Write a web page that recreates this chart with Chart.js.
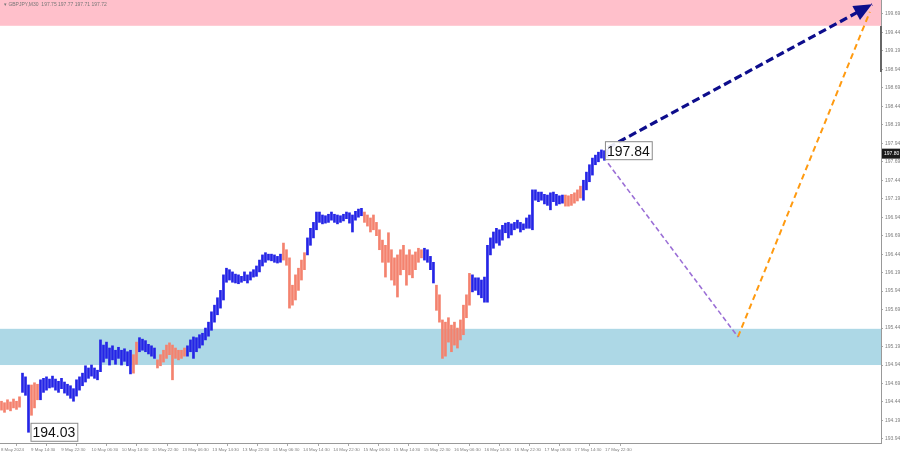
<!DOCTYPE html>
<html><head><meta charset="utf-8">
<script src="https://cdn.jsdelivr.net/npm/chart.js@4.4.1/dist/chart.umd.min.js"></script>
<style>html,body{margin:0;padding:0;background:#fff;overflow:hidden}#wrap{width:900px;height:454px;position:relative}</style>
</head><body><div id="wrap"><canvas id="c" width="900" height="454"></canvas></div>
<script>
const symbolTitle = 'GBPJPY,M30  197.75 197.77 197.71 197.72';
const timeLabels = ['8 May 2024','9 May 14:30','9 May 22:30','10 May 06:30','10 May 14:30','10 May 22:30','13 May 06:30','13 May 14:30','13 May 22:30','14 May 06:30','14 May 14:30','14 May 22:30','15 May 06:30','15 May 14:30','15 May 22:30','16 May 06:30','16 May 14:30','16 May 22:30','17 May 06:30','17 May 14:30','17 May 22:30'];
const priceTicks = [193.94,194.19,194.44,194.69,194.94,195.19,195.44,195.69,195.94,196.19,196.44,196.69,196.94,197.19,197.44,197.69,197.94,198.19,198.44,198.69,198.94,199.19,199.44,199.69];
const highs = [194.45,194.43,194.47,194.44,194.48,194.45,194.51,194.83,194.78,194.67,
194.67,194.70,194.68,194.74,194.76,194.78,194.75,194.79,194.75,194.72,
194.76,194.71,194.68,194.66,194.62,194.74,194.78,194.83,194.93,194.90,
194.94,194.90,194.87,195.28,195.21,195.25,195.17,195.20,195.14,195.18,
195.14,195.16,195.12,195.14,195.08,195.25,195.31,195.29,195.27,195.22,
195.20,195.17,195.01,195.08,195.14,195.21,195.24,195.21,195.17,195.14,
195.14,195.17,195.20,195.28,195.32,195.31,195.35,195.37,195.44,195.52,
195.66,195.75,195.85,195.95,196.16,196.25,196.23,196.20,196.17,196.16,
196.14,196.20,196.16,196.20,196.23,196.28,196.36,196.43,196.46,196.44,
196.44,196.43,196.41,196.44,196.59,196.50,196.39,196.02,196.16,196.25,
196.36,196.46,196.66,196.79,196.87,197.01,197.01,196.97,196.96,196.98,
197.01,196.98,196.97,196.96,196.98,197.01,197.00,196.97,197.02,197.05,
197.06,197.01,196.97,196.93,196.97,196.87,196.77,196.63,196.56,196.73,
196.50,196.39,196.43,196.50,196.56,196.43,196.50,196.43,196.47,196.52,
196.50,196.52,196.50,196.41,196.33,196.02,195.89,195.55,195.52,195.58,
195.48,195.52,195.44,195.55,195.75,195.89,196.18,196.16,196.12,196.12,
196.09,196.13,196.56,196.66,196.74,196.79,196.77,196.83,196.86,196.87,
196.85,196.87,196.90,196.87,196.85,196.93,196.97,197.31,197.31,197.28,
197.28,197.25,197.24,197.27,197.28,197.25,197.23,197.24,197.24,197.23,
197.25,197.27,197.31,197.36,197.44,197.55,197.65,197.74,197.78,197.82,
197.85,197.84,197.86];
const lows = [194.33,194.30,194.34,194.32,194.36,194.34,194.37,194.57,194.53,194.03,
194.26,194.36,194.47,194.47,194.57,194.60,194.63,194.64,194.60,194.57,
194.62,194.56,194.53,194.49,194.45,194.52,194.60,194.66,194.71,194.76,
194.79,194.76,194.74,194.85,194.98,195.03,194.94,195.01,194.95,195.03,
194.94,194.99,194.93,194.82,194.83,194.95,195.12,195.14,195.12,195.09,
195.06,195.03,194.90,194.93,194.98,195.03,195.08,194.74,195.03,195.01,
195.03,195.06,195.06,195.12,195.03,195.12,195.17,195.21,195.28,195.33,
195.41,195.52,195.62,195.71,195.82,196.06,196.09,196.06,196.05,196.04,
196.06,196.08,196.05,196.09,196.13,196.14,196.20,196.28,196.33,196.36,
196.35,196.33,196.32,196.33,196.36,196.29,195.71,195.75,195.82,195.95,
196.09,196.23,196.43,196.56,196.66,196.77,196.87,196.85,196.86,196.87,
196.90,196.87,196.85,196.87,196.89,196.92,196.86,196.74,196.90,196.94,
196.96,196.87,196.82,196.74,196.77,196.69,196.50,196.33,196.13,196.33,
196.09,196.02,195.86,196.16,196.23,196.02,196.16,196.12,196.23,196.33,
196.39,196.36,196.33,196.23,196.05,195.68,195.52,195.03,195.06,195.25,
195.12,195.21,195.17,195.28,195.35,195.58,195.75,195.93,195.95,195.89,
195.85,195.79,195.79,196.43,196.52,196.59,196.56,196.63,196.73,196.66,
196.70,196.77,196.79,196.74,196.77,196.79,196.79,196.77,197.17,197.15,
197.17,197.12,197.10,197.04,197.15,197.10,197.12,197.13,197.09,197.09,
197.10,197.13,197.16,197.20,197.17,197.31,197.42,197.51,197.65,197.69,
197.74,197.71,197.75];
// wave segments: first bar index, last bar index, wave type
const segStart = [0,7,10,13,44,46,52,62,94,102,121,141,145,157,188,194];
const segEnd   = [6,9,12,43,45,51,61,93,101,120,140,144,156,187,193,202];
const segType  = ['corr','imp','corr','imp','corr','imp','corr','imp','corr','imp','corr','imp','corr','imp','corr','imp'];
// forecast paths (bar index, price)
const mainPathX = [202.2, 290.2];
const mainPathY = [197.88, 199.82];
const altDownX = [202.2, 245.5];
const altDownY = [197.67, 195.32];
const altUpX = [245.5, 289.5];
const altUpY = [195.32, 199.72];
const resistZone = [199.53, 199.95];
const supportZone = [194.94, 195.43];
const markIndex = [9, 200.5];
const markValue = [194.03, 197.84];
const markText = ['194.03', '197.84'];
const lastPrice = 197.80;

const COLORS = {imp:'#2424e6', corr:'#f4826e'};
const barColors = highs.map((h,i)=>{
  for (let s=0;s<segStart.length;s++) if (i>=segStart[s] && i<=segEnd[s]) return COLORS[segType[s]];
  return COLORS.imp;
});
const TICKSTEP = 10.07;
const FONT_FAMILY = '"Liberation Sans", Arial, sans-serif';

const overlay = {
  id:'overlay',
  beforeDatasetsDraw(chart){
    const {ctx, chartArea:a, scales:{y}} = chart;
    ctx.save();
    ctx.beginPath(); ctx.rect(a.left,a.top,a.right-a.left,a.bottom-a.top); ctx.clip();
    ctx.fillStyle='#ffc0cb';
    let t=y.getPixelForValue(resistZone[1]), b=y.getPixelForValue(resistZone[0]);
    ctx.fillRect(a.left,t,a.right-a.left,b-t);
    ctx.fillStyle='#add8e6';
    t=y.getPixelForValue(supportZone[1]); b=y.getPixelForValue(supportZone[0]);
    ctx.fillRect(a.left,t,a.right-a.left,b-t);
    ctx.restore();
  },
  afterDatasetsDraw(chart){
    const {ctx, chartArea:a, scales:{x,y}} = chart;
    ctx.save();
    const x0=x.getPixelForValue(mainPathX[0]), y0=y.getPixelForValue(mainPathY[0]);
    const x1=x.getPixelForValue(mainPathX[1]), y1=y.getPixelForValue(mainPathY[1]);
    const ang=Math.atan2(y1-y0,x1-x0);
    ctx.fillStyle='#0d0d8c';
    ctx.beginPath();
    ctx.moveTo(x1,y1);
    ctx.lineTo(x1-18*Math.cos(ang)+8*Math.sin(ang), y1-18*Math.sin(ang)-8*Math.cos(ang));
    ctx.lineTo(x1-18*Math.cos(ang)-8*Math.sin(ang), y1-18*Math.sin(ang)+8*Math.cos(ang));
    ctx.closePath(); ctx.fill();
    ctx.font='14px "Liberation Sans", Arial, sans-serif';
    ctx.textBaseline='middle'; ctx.textAlign='left';
    for (let k=0;k<markIndex.length;k++){
      const px=x.getPixelForValue(markIndex[k])+2, py=y.getPixelForValue(markValue[k]);
      const w=ctx.measureText(markText[k]).width+4;
      ctx.fillStyle='rgba(255,255,255,0.9)';
      ctx.fillRect(px,py-9.5,w,19);
      ctx.strokeStyle='#8a8a8a'; ctx.lineWidth=1;
      ctx.strokeRect(px+0.5,py-9,w,18);
      ctx.fillStyle='#111';
      ctx.fillText(markText[k],px+2,py+1);
    }
    ctx.restore();
  },
  afterDraw(chart){
    const {ctx, chartArea:a, scales:{y}} = chart;
    ctx.save();
    ctx.font='5px ' + FONT_FAMILY;
    ctx.fillStyle='#777'; ctx.textBaseline='middle'; ctx.textAlign='left';
    ctx.fillText('\u25BE ' + symbolTitle, 4, 5);
    ctx.fillStyle='#666';
    ctx.fillRect(a.right-1,26,2,46);
    const py=y.getPixelForValue(lastPrice);
    ctx.fillStyle='#1a1a1a';
    ctx.fillRect(a.right+1,py-5,18,10);
    ctx.fillStyle='#fff';
    ctx.fillText(lastPrice.toFixed(2), a.right+3, py);
    ctx.restore();
  }
};

new Chart(document.getElementById('c'), {
  type:'bar',
  data:{datasets:[
    {type:'bar', data: highs.map((h,i)=>({x:i, y:[lows[i], h]})), backgroundColor: barColors, barThickness:2, order:3},
    {type:'line', data: altDownX.map((v,i)=>({x:v,y:altDownY[i]})), borderColor:'#9b6fd6', borderWidth:1.6, borderDash:[5,3], pointRadius:0, order:2},
    {type:'line', data: altUpX.map((v,i)=>({x:v,y:altUpY[i]})), borderColor:'#ff9a10', borderWidth:2, borderDash:[6,4], pointRadius:0, order:2},
    {type:'line', data: mainPathX.map((v,i)=>({x:v,y:mainPathY[i]})), borderColor:'#0d0d8c', borderWidth:3.2, borderDash:[8,4], pointRadius:0, order:1}
  ]},
  options:{
    responsive:false, animation:false, devicePixelRatio:1,
    layout:{padding:0},
    plugins:{legend:{display:false}, tooltip:{enabled:false}},
    scales:{
      x:{type:'linear', min:-0.5, max:293.2, offset:false,
        afterFit(s){ s.height=11; s.paddingLeft=0; s.paddingRight=0; },
        afterBuildTicks(s){ s.ticks = timeLabels.map((l,n)=>({value: n*TICKSTEP - 0.2})); },
        ticks:{autoSkip:false, maxRotation:0, minRotation:0, align:'start', padding:1, color:'#808080',
          font:{size:4.4, family:FONT_FAMILY},
          callback:(v,i)=>timeLabels[i]},
        grid:{drawOnChartArea:false, tickLength:3, color:'#aaa'},
        border:{color:'#999'}
      },
      y:{position:'right', min:193.885, max:199.879,
        afterFit(s){ s.width=19; s.paddingTop=0; s.paddingBottom=0; },
        afterBuildTicks(s){ s.ticks = priceTicks.map(v=>({value:v})); },
        ticks:{padding:2, color:'#808080', font:{size:5, family:FONT_FAMILY},
          callback:v=>Number(v).toFixed(2)},
        grid:{drawOnChartArea:false, tickLength:2, color:'#aaa'},
        border:{color:'#999'}
      }
    }
  },
  plugins:[overlay]
});
</script></body></html>
